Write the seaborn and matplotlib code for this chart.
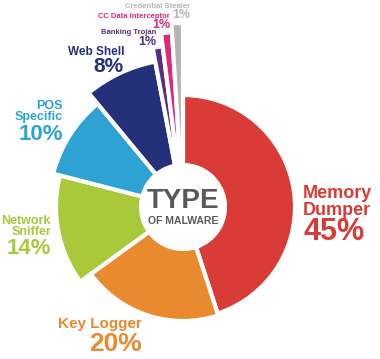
import numpy as np
import seaborn as sns
import matplotlib.pyplot as plt

# malware types, share (%) and outer radius (in pixels)
TYPES = ["Memory Dumper", "Key Logger", "Network Sniffer", "POS Specific",
         "Web Shell", "Banking Trojan", "CC Data Interceptor", "Credential Stealer"]
SHARES = [45, 20, 14, 10, 8, 1, 1, 1]
RADII = [112, 114, 127, 134, 148, 162, 175, 184]
COLORS = ["#D93B36", "#E98A2E", "#A8C93A", "#2EA2D3",
          "#24317A", "#5A2D86", "#E0287A", "#B5B5B5"]
HOLE = 42

sns.set_theme(style="white")
plt.rcParams["font.family"] = ["Liberation Sans", "DejaVu Sans"]

W, H = 380, 359
CX, CY = 183, 207
RMAX = 190
fig = plt.figure(figsize=(W / 100, H / 100), dpi=100)
ax = fig.add_axes([(CX - RMAX) / W, (H - CY - RMAX) / H, 2 * RMAX / W, 2 * RMAX / H],
                  projection="polar")
ax.set_theta_zero_location("N")
ax.set_theta_direction(-1)

widths = np.array(SHARES) / 100 * 2 * np.pi
starts = np.concatenate([[0], np.cumsum(widths)[:-1]])
ax.bar(starts, np.array(RADII) - HOLE, width=widths, bottom=HOLE, align="edge",
       color=COLORS, edgecolor="white", linewidth=3)
ax.set_ylim(0, RMAX)
ax.set_axis_off()


def px(x, y):
    return x / W, 1 - y / H


# labels: (lines, x, y, ha, sizes)
labels = [
    (["Memory", "Dumper", "45%"], 303, [193, 210, 232], "left", [13, 13, 22]),
    (["Key Logger", "20%"], 142, [324, 344], "right", [11, 19]),
    (["Network", "Sniffer", "14%"], 51, [221, 232, 248], "right", [9, 9, 16]),
    (["POS", "Specific", "10%"], 63, [106, 117, 134], "right", [9, 9, 16]),
    (["Web Shell", "8%"], 124, [52, 66], "right", [8.5, 15]),
    (["Banking Trojan", "1%"], 156, [33, 42], "right", [5.5, 9]),
    (["CC Data Interceptor", "1%"], 170, [16, 25], "right", [5.5, 9]),
    (["Credential Stealer", "1%"], 190, [6, 15], "right", [5.5, 9]),
]
for (lines, x, ys, ha, sizes), color in zip(labels, COLORS):
    for line, y, s in zip(lines, ys, sizes):
        fig.text(*px(x, y), line, ha=ha, va="center", fontsize=s,
                 fontweight="bold", color=color)

fig.text(*px(183, 201), "TYPE", ha="center", va="center", fontsize=20,
         fontweight="bold", color="#58595B")
fig.text(*px(183, 221), "OF MALWARE", ha="center", va="center", fontsize=7.5,
         fontweight="bold", color="#58595B")

fig.savefig("out.png", dpi=100)
